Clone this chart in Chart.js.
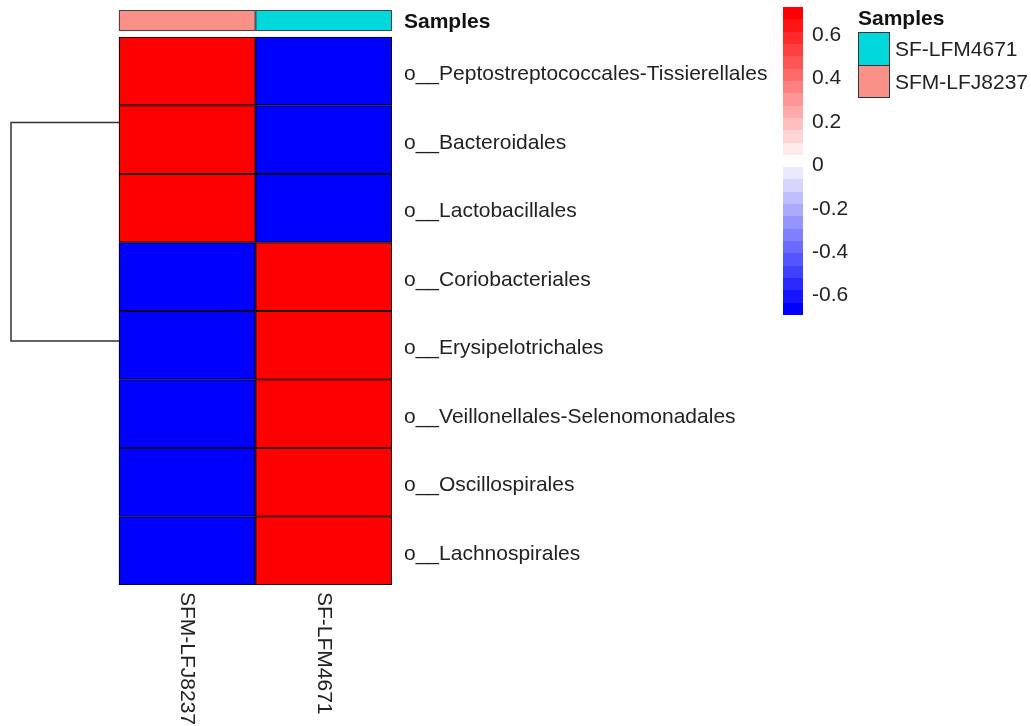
<!DOCTYPE html>
<html>
<head>
<meta charset="utf-8">
<script src="https://cdn.jsdelivr.net/npm/chart.js@4"></script>
<style>
  body { margin: 0; background: #fff; }
  #wrap { position: relative; width: 1031px; height: 726px; font-family: "Liberation Sans", Arial, sans-serif; color: #222; }
  canvas { position: absolute; }
  .lg { position: absolute; font-size: 21px; white-space: nowrap; }
  .box { position: absolute; box-sizing: border-box; border: 1.5px solid #333; }
</style>
</head>
<body>
<div id="wrap">
  <canvas id="heat" width="1031" height="726" style="left:0;top:0"></canvas>
  <canvas id="bar" width="120" height="330" style="left:783px;top:0"></canvas>
</div>
<script>
// samples (columns) and their annotation colours
var samples = ["SFM-LFJ8237", "SF-LFM4671"];
var sampleColors = ["#fa9189", "#00d8dc"];

// orders (rows), top to bottom
var taxa = [
  "o__Peptostreptococcales-Tissierellales",
  "o__Bacteroidales",
  "o__Lactobacillales",
  "o__Coriobacteriales",
  "o__Erysipelotrichales",
  "o__Veillonellales-Selenomonadales",
  "o__Oscillospirales",
  "o__Lachnospirales"
];

// row scaled abundance per sample
var sfmLFJ8237 = [0.707, 0.707, 0.707, -0.707, -0.707, -0.707, -0.707, -0.707];
var sfLFM4671 = [-0.707, -0.707, -0.707, 0.707, 0.707, 0.707, 0.707, 0.707];

// colour key
var keyTicks = [-0.6, -0.4, -0.2, 0, 0.2, 0.4, 0.6];
var keyMin = -0.70, keyMax = 0.72;

// row dendrogram: the two cluster nodes (row position) and root height
var clusterRows = [1.25, 4.4375];
var treeHeight = 2;

Chart.defaults.font.family = '"Liberation Sans", Arial, sans-serif';
Chart.defaults.color = "#222";

var nBins = 25;
function binColor(k) {
  var t = k / (nBins - 1) * 2 - 1;
  var a = Math.round(255 * (1 - Math.abs(t)));
  return t < 0 ? "rgb(" + a + "," + a + ",255)" : "rgb(255," + a + "," + a + ")";
}
function valueColor(v) {
  var k = Math.floor((v - keyMin) / (keyMax - keyMin) * nBins);
  return binColor(Math.max(0, Math.min(nBins - 1, k)));
}
function noPad(s) {
  s.paddingTop = 0; s.paddingBottom = 0; s.paddingLeft = 0; s.paddingRight = 0;
}

var cols = [sfmLFJ8237, sfLFM4671];
var annTop = -0.394, annBottom = -0.088;
var annMid = (annTop + annBottom) / 2;
var dendroPx = 108, heatPx = 273;
var labelNudge = 0.05; // row labels sit a little below the row centre

var datasets = taxa.map(function (name, i) {
  return {
    label: name,
    data: samples.map(function (s, j) { return { x: j + 0.5, y: [i, i + 1] }; }),
    backgroundColor: cols.map(function (c) { return valueColor(c[i]); }),
    borderColor: "#000",
    borderWidth: 1.2,
    borderSkipped: false,
    grouped: false,
    barPercentage: 1,
    categoryPercentage: 1
  };
});

// sample annotation strip
datasets.push({
  label: "Samples",
  data: samples.map(function (s, j) { return { x: j + 0.5, y: [annTop, annBottom] }; }),
  backgroundColor: sampleColors,
  borderColor: "#444",
  borderWidth: 1.3,
  borderSkipped: false,
  grouped: false,
  barPercentage: 1,
  categoryPercentage: 1
});

// dendrogram
datasets.push({
  type: "line",
  label: "tree",
  xAxisID: "xd",
  data: [
    { x: 0, y: clusterRows[0] },
    { x: treeHeight, y: clusterRows[0] },
    { x: treeHeight, y: clusterRows[1] },
    { x: 0, y: clusterRows[1] }
  ],
  borderColor: "#333",
  borderWidth: 1.5,
  pointRadius: 0,
  tension: 0,
  fill: false,
  clip: false
});

var sampleLabels = {
  id: "sampleLabels",
  afterDraw: function (chart) {
    var ctx = chart.ctx, xs = chart.scales.x;
    samples.forEach(function (s, j) {
      ctx.save();
      ctx.translate(xs.getPixelForValue(j + 0.5), chart.chartArea.bottom + 7);
      ctx.rotate(Math.PI / 2);
      ctx.textAlign = "left";
      ctx.textBaseline = "middle";
      ctx.fillStyle = "#222";
      ctx.font = '21px "Liberation Sans", Arial, sans-serif';
      ctx.fillText(s, 0, 0);
      ctx.restore();
    });
  }
};

new Chart(document.getElementById("heat"), {
  type: "bar",
  data: { datasets: datasets },
  options: {
    responsive: false,
    animation: false,
    layout: { padding: { left: 11, top: 10, right: 0, bottom: 141 } },
    plugins: { legend: { display: false }, tooltip: { enabled: false } },
    scales: {
      x: {
        type: "linear", display: false, offset: false,
        min: -samples.length * dendroPx / heatPx, max: samples.length,
        afterBuildTicks: function (s) { s.ticks = [0, 1, 2].map(function (v) { return { value: v }; }); }
      },
      xd: {
        type: "linear", display: false, reverse: true, offset: false,
        min: -treeHeight * heatPx / dendroPx, max: treeHeight
      },
      y: {
        type: "linear", position: "right", reverse: true,
        min: annTop, max: taxa.length,
        grid: { display: false, drawTicks: false },
        border: { display: false },
        afterBuildTicks: function (s) {
          s.ticks = [annMid + 0.02].concat(taxa.map(function (t, i) { return i + 0.5 + labelNudge; }))
            .map(function (v) { return { value: v }; });
        },
        afterFit: function (s) { s.width = 1031 - 392; noPad(s); },
        ticks: {
          autoSkip: false,
          padding: 12,
          color: function (c) { return c.tick && c.tick.value < 0 ? "#111" : "#222"; },
          font: function (c) {
            return c.tick && c.tick.value < 0 ? { size: 21, weight: "bold" } : { size: 21 };
          },
          callback: function (v) { return v < 0 ? "Samples" : taxa[Math.floor(v)]; }
        }
      }
    }
  },
  plugins: [sampleLabels]
});

// colour key
new Chart(document.getElementById("bar"), {
  type: "bar",
  data: {
    labels: [""],
    datasets: [{
      data: [[keyMin, keyMax]],
      barPercentage: 1,
      categoryPercentage: 1,
      backgroundColor: function (c) {
        var area = c.chart.chartArea;
        if (!area) return "#fff";
        var g = c.chart.ctx.createLinearGradient(0, area.bottom, 0, area.top);
        for (var k = 0; k < nBins; k++) {
          g.addColorStop(k / nBins, binColor(k));
          g.addColorStop((k + 1) / nBins, binColor(k));
        }
        return g;
      }
    }]
  },
  options: {
    responsive: false,
    animation: false,
    layout: { padding: { left: 0, top: 7, right: 0, bottom: 15 } },
    plugins: { legend: { display: false }, tooltip: { enabled: false } },
    scales: {
      x: { display: false },
      y: {
        position: "right", min: keyMin, max: keyMax,
        grid: { display: false, drawTicks: false },
        border: { display: false },
        afterBuildTicks: function (s) { s.ticks = keyTicks.map(function (v) { return { value: v - 0.01 }; }); },
        afterFit: function (s) { s.width = 100; noPad(s); },
        ticks: {
          padding: 9, color: "#222", font: { size: 21 },
          callback: function (v) { return String(Math.round(v * 10) / 10); }
        }
      }
    }
  }
});

// sample legend (html)
var wrap = document.getElementById("wrap");
function addDiv(cls, css, text) {
  var d = document.createElement("div");
  d.className = cls;
  d.style.cssText = css;
  if (text) d.textContent = text;
  wrap.appendChild(d);
}
addDiv("lg", "left:858px;top:6px;font-weight:bold;color:#111;line-height:24px", "Samples");
[1, 0].forEach(function (j, n) {
  var top = 32 + n * 33;
  addDiv("box", "left:858px;top:" + top + "px;width:32px;height:" + (n ? 33 : 34) + "px;background:" + sampleColors[j]);
  addDiv("lg", "left:895px;top:" + top + "px;line-height:34px", samples[j]);
});
</script>
</body>
</html>
